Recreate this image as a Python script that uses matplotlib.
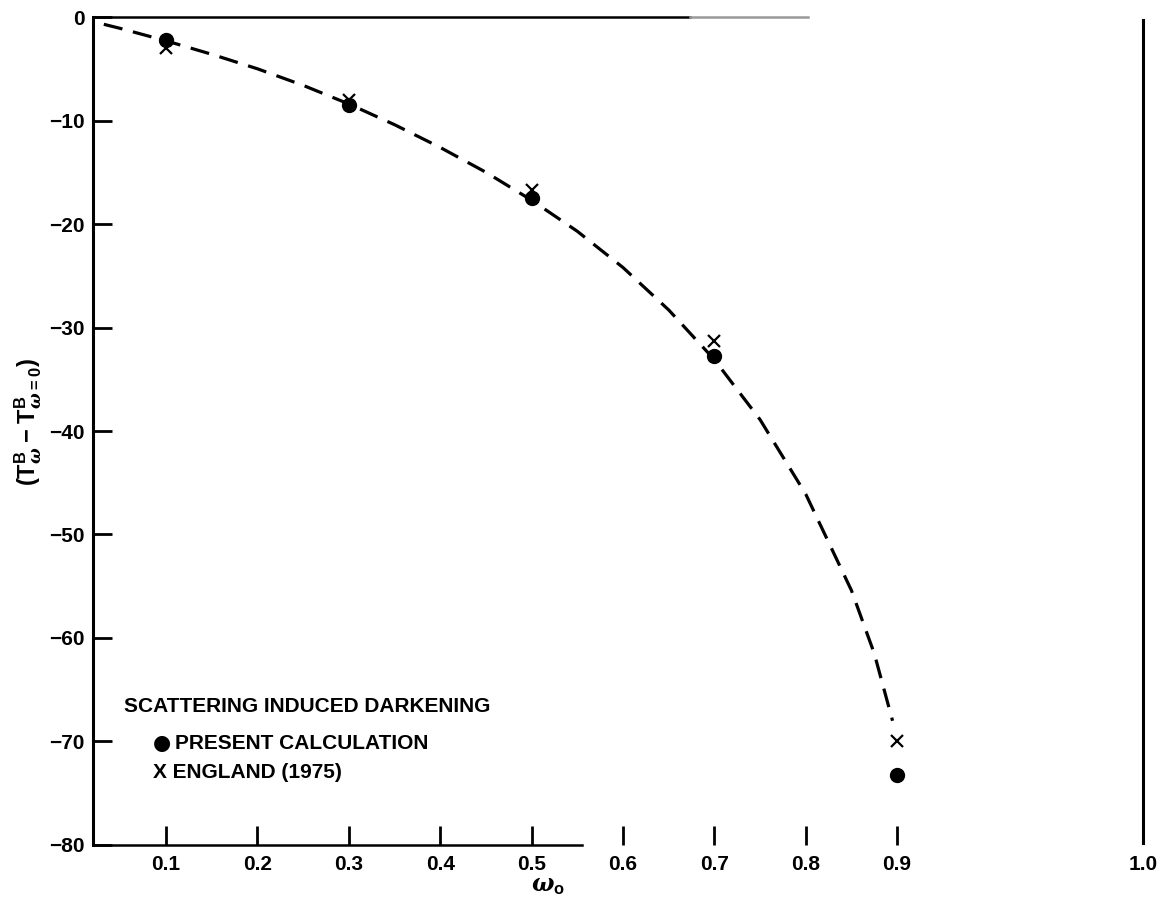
import numpy as np
import matplotlib
matplotlib.use('Agg')
import matplotlib.pyplot as plt

# data
omega = [0.1, 0.3, 0.5, 0.7, 0.9]
present_calc = [-2.2, -8.5, -17.5, -32.8, -73.2]
england_1975 = [-3.0, -8.0, -16.7, -31.3, -70.0]

# dashed curve, read at regular steps along the drawn line
curve_x = [0.0, 0.05, 0.1, 0.15, 0.2, 0.25, 0.3, 0.35, 0.4, 0.45, 0.5, 0.55,
           0.6, 0.65, 0.7, 0.75, 0.8, 0.85, 0.875, 0.895]
curve_y = [0.0, -1.1, -2.3, -3.6, -5.0, -6.6, -8.4, -10.4, -12.6, -15.0, -17.7,
           -20.7, -24.2, -28.3, -33.1, -38.9, -46.1, -55.4, -61.5, -68.0]

xticks = [0.1, 0.2, 0.3, 0.4, 0.5, 0.6, 0.7, 0.8, 0.9]
yticks = [0, -10, -20, -30, -40, -50, -60, -70, -80]

plt.rcParams['font.family'] = ['Liberation Sans', 'DejaVu Sans']
plt.rcParams['font.weight'] = 'bold'
plt.rcParams['mathtext.fontset'] = 'custom'
plt.rcParams['mathtext.rm'] = 'Liberation Sans'
plt.rcParams['mathtext.bf'] = 'Liberation Sans:bold'
plt.rcParams['mathtext.it'] = 'DejaVu Serif:italic'

fig = plt.figure(figsize=(11.62, 8.97), dpi=100)
ax = fig.add_axes([0.080, 0.058, 0.9036, 0.923])

# dashed curve + points
ax.plot(curve_x, curve_y, color='black', lw=2.3, dashes=(6, 3.4), zorder=2)
ax.plot(omega, present_calc, 'o', color='black', ms=10, zorder=3)
ax.plot(omega, england_1975, 'x', color='black', ms=9, mew=1.6, zorder=3)

ax.set_xlim(0.02, 1.169)
ax.set_ylim(-80, 0)

# frame: left + right full, top and bottom only partly drawn
for s in ['top', 'bottom', 'right']:
    ax.spines[s].set_visible(False)
ax.spines['left'].set_linewidth(2.2)
ax.plot([1, 1], [0.002, 0.996], transform=ax.transAxes, color='black', lw=2.2, clip_on=False)
ax.plot([0, 0.466], [0, 0], transform=ax.transAxes, color='black', lw=1.8, clip_on=False)
ax.plot([0, 0.569], [1, 1], transform=ax.transAxes, color='black', lw=1.8, clip_on=False)
ax.plot([0.569, 0.681], [1, 1], transform=ax.transAxes, color='#999999', lw=1.8, clip_on=False)

ax.set_xticks(xticks)
ax.set_xticklabels([f'{v:.1f}' for v in xticks])
ax.set_yticks(yticks)
ax.set_yticklabels([f'\u2212{-v}' if v < 0 else '0' for v in yticks])
ax.tick_params(axis='x', direction='in', length=14, width=2, pad=7, labelsize=15)
ax.tick_params(axis='y', direction='in', length=14, width=2, pad=6, labelsize=15)
ax.text(1.0, -0.012, '1.0', transform=ax.transAxes, ha='center', va='top',
        fontsize=15, fontweight='bold')

ax.set_xlabel(r'$\omega_{\mathbf{o}}$', fontsize=17)
ax.xaxis.set_label_coords(0.433, -0.036)
ax.set_ylabel(r'$(\mathbf{T}^{\mathbf{B}}_{\omega} - \mathbf{T}^{\mathbf{B}}_{\omega=0})$',
              fontsize=17)
ax.yaxis.set_label_coords(-0.047, 0.511)

# legend as plain text
ax.text(0.0295, 0.167, 'SCATTERING INDUCED DARKENING', transform=ax.transAxes,
        fontsize=15, fontweight='bold', va='center')
ax.text(0.057, 0.123, '\u25CF', transform=ax.transAxes, family='DejaVu Sans',
        fontsize=15, va='center')
ax.text(0.078, 0.123, 'PRESENT CALCULATION', transform=ax.transAxes,
        fontsize=15, fontweight='bold', va='center')
ax.text(0.057, 0.088, 'X ENGLAND (1975)', transform=ax.transAxes,
        fontsize=15, fontweight='bold', va='center')

fig.savefig('out.png', dpi=100)
